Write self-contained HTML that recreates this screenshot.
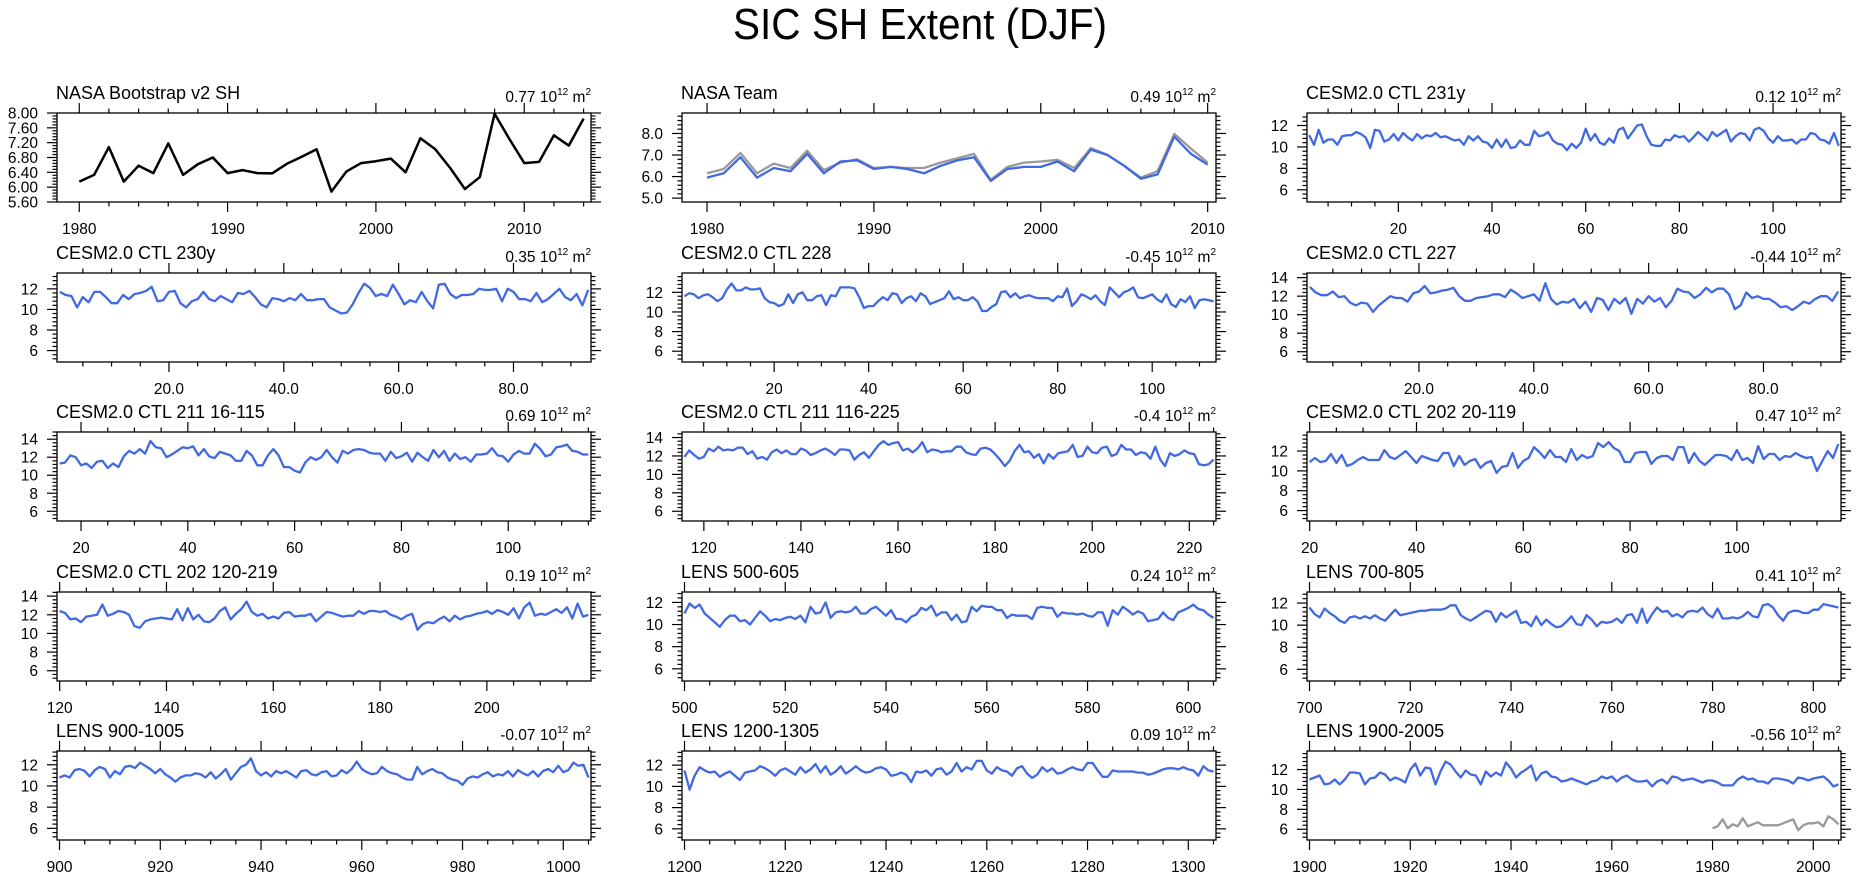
<!DOCTYPE html>
<html><head><meta charset="utf-8"><style>
html,body{margin:0;padding:0;background:#fff;}
svg{display:block;font-family:"Liberation Sans",Arial,sans-serif;}
</style></head><body>
<svg id="chart" width="1861" height="880" viewBox="0 0 1861 880" xmlns="http://www.w3.org/2000/svg">
<rect width="1861" height="880" fill="#fff"/>
<text x="920" y="39" text-anchor="middle" font-size="44" textLength="374" lengthAdjust="spacingAndGlyphs">SIC SH Extent (DJF)</text>
</svg>
<script>
const bootstrapVals=[6.15,6.33,7.08,6.15,6.58,6.38,7.18,6.33,6.62,6.8,6.38,6.46,6.38,6.37,6.63,6.82,7.02,5.88,6.42,6.65,6.7,6.77,6.4,7.32,7.02,6.52,5.95,6.27,7.98,7.3,6.65,6.68,7.4,7.12,7.85];
const teamGrayVals=[6.15,6.35,7.1,6.15,6.6,6.4,7.2,6.3,6.65,6.8,6.4,6.45,6.4,6.4,6.65,6.85,7.05,5.85,6.45,6.65,6.7,6.78,6.4,7.32,7.0,6.5,5.95,6.25,7.98,7.3,6.65];
const teamBlueVals=[5.95,6.15,6.9,5.95,6.4,6.25,7.05,6.15,6.7,6.75,6.35,6.45,6.35,6.15,6.5,6.75,6.9,5.8,6.35,6.45,6.45,6.7,6.25,7.25,7.0,6.5,5.9,6.1,7.85,7.05,6.55];
const ctl231Vals=[11.1,10.2,11.6,10.4,10.7,10.7,10.2,11.0,11.1,11.1,11.4,11.2,10.9,9.9,11.6,11.5,10.5,10.7,11.2,10.6,11.3,10.9,10.6,11.2,10.8,11.1,11.0,11.3,10.9,11.0,10.8,10.6,10.7,10.2,11.0,10.6,11.0,10.5,10.4,9.9,10.7,10.0,10.7,9.9,10.0,10.6,10.2,10.2,11.5,11.0,11.1,11.4,10.6,10.3,10.2,9.7,10.3,9.9,10.4,11.7,10.6,11.2,10.4,10.2,10.8,10.4,11.6,11.8,10.8,11.4,12.0,12.1,11.0,10.2,10.1,10.1,10.7,10.6,11.1,10.9,11.0,10.5,10.9,11.4,11.0,10.6,11.4,11.0,11.3,11.6,10.5,11.0,11.3,11.2,10.6,11.6,11.8,11.5,10.8,10.4,11.0,10.6,10.6,10.7,10.3,10.7,10.7,11.3,11.2,10.7,10.6,10.3,11.3,10.1];
const ctl230Vals=[11.7,11.4,11.3,10.2,11.2,10.7,11.7,11.7,11.2,10.6,10.6,11.4,11.0,11.5,11.6,11.8,12.2,10.8,10.9,11.7,11.8,10.6,10.2,10.8,11.0,11.7,11.0,10.8,11.3,11.0,10.7,11.6,11.5,11.8,11.2,10.5,10.2,11.1,11.0,10.8,11.1,10.9,11.5,10.9,10.9,11.0,11.0,10.2,9.9,9.6,9.7,10.5,11.6,12.5,12.1,11.3,11.5,11.3,12.4,11.5,10.5,10.9,10.7,11.7,10.8,10.1,12.4,12.5,11.5,11.1,11.4,11.4,11.5,12.0,11.9,11.9,12.0,10.8,12.0,11.7,11.0,11.0,10.8,11.6,10.7,11.0,11.5,12.0,11.2,10.9,11.5,10.4,11.9];
const ctl228Vals=[11.6,11.9,11.8,11.4,11.7,11.8,11.5,11.1,11.4,12.3,12.9,12.2,12.2,12.5,12.3,12.3,12.4,11.4,11.0,10.9,10.6,10.8,11.8,10.9,11.8,12.0,11.2,11.2,11.6,11.7,10.7,11.7,11.6,12.5,12.5,12.5,12.4,11.5,10.4,10.6,10.6,11.1,11.5,11.2,11.9,11.8,10.9,11.4,11.6,11.1,11.9,11.6,10.8,11.0,11.2,11.4,12.1,11.3,11.5,11.2,11.2,11.5,11.1,10.1,10.1,10.5,10.8,12.0,12.1,11.5,11.9,11.4,11.6,11.7,11.5,11.4,11.4,11.4,11.1,11.6,11.5,12.4,10.6,11.1,11.8,11.6,11.3,11.7,11.1,10.7,12.5,12.0,11.5,12.0,12.2,12.5,11.5,11.4,11.6,11.8,11.3,11.0,11.8,10.8,10.5,11.3,11.0,11.6,10.4,11.2,11.3,11.2,11.1];
const ctl227Vals=[13.0,12.4,12.1,12.1,12.5,11.9,12.0,11.3,11.0,11.3,11.2,10.3,11.0,11.5,12.0,11.8,11.8,11.4,12.3,12.5,13.1,12.3,12.4,12.6,12.7,12.9,12.0,11.5,11.5,11.8,11.9,12.0,12.2,12.2,11.9,12.7,12.3,11.8,12.0,12.2,11.5,13.4,11.7,11.1,11.4,11.3,11.7,10.7,11.4,10.3,11.8,11.6,10.5,11.7,11.2,11.8,10.1,11.7,11.2,12.0,11.4,11.8,10.8,11.5,12.8,12.5,12.4,11.8,12.2,12.9,12.4,12.8,12.8,12.2,10.6,11.0,12.4,11.8,12.0,11.7,11.7,11.3,10.8,10.9,10.5,10.9,11.4,11.2,11.7,12.0,12.0,11.5,12.5];
const ctl211aVals=[11.3,11.4,12.2,12.0,11.1,11.3,10.8,11.5,11.6,10.8,11.3,10.9,12.1,12.7,12.4,12.9,12.4,13.8,13.1,13.0,12.0,12.3,12.7,13.1,13.0,13.2,12.2,12.9,12.1,11.9,12.6,12.4,12.2,11.6,11.6,12.7,12.2,11.1,11.1,12.2,12.9,12.2,10.9,10.9,10.5,10.3,11.4,12.0,11.7,12.0,12.8,12.0,11.4,12.7,12.4,12.8,12.9,12.8,12.5,12.4,12.4,11.6,12.6,11.9,12.1,12.5,11.5,12.5,12.0,11.6,12.8,12.0,12.7,11.6,12.4,11.8,12.0,11.5,12.3,12.3,12.4,13.0,12.2,12.1,11.5,12.3,12.7,12.4,12.4,13.5,12.9,12.1,12.3,13.1,13.2,13.4,12.7,12.6,12.3,12.3];
const ctl211bVals=[11.9,12.6,12.1,11.7,11.9,12.8,12.5,13.0,12.6,12.7,12.6,12.9,12.9,12.2,12.5,11.7,11.9,11.6,12.4,12.7,12.3,12.6,12.2,12.2,12.8,12.6,12.1,12.3,12.6,12.8,12.5,12.1,12.7,12.7,12.6,11.6,12.1,12.4,11.8,12.5,13.2,13.6,13.2,13.4,13.5,12.6,12.8,12.4,12.8,13.5,12.4,12.7,12.6,12.4,12.5,12.5,13.0,13.0,12.4,12.2,12.1,12.8,12.9,12.7,12.2,11.6,10.9,11.5,12.5,13.2,12.4,12.5,11.8,12.2,11.2,12.2,11.7,12.3,12.4,12.5,13.2,11.9,12.0,13.0,12.4,12.3,12.9,13.0,12.0,12.2,13.2,12.7,12.7,12.1,12.4,12.3,11.7,13.0,11.6,10.9,12.3,12.0,12.2,12.6,12.3,12.2,11.1,11.0,11.1,11.6];
const ctl202aVals=[10.9,11.3,10.9,11.0,11.7,10.8,11.6,10.5,10.7,11.1,11.4,11.1,11.1,11.1,12.1,11.4,11.2,11.6,12.0,11.4,10.8,11.5,11.3,11.1,11.0,11.8,11.8,10.5,11.5,10.6,11.0,11.2,10.3,10.8,11.0,9.8,10.4,10.5,11.8,10.3,11.0,11.3,12.4,11.9,11.3,12.1,11.4,11.4,10.9,12.2,11.1,11.6,11.3,11.5,12.8,12.4,12.9,12.3,12.0,10.9,10.9,11.8,11.9,11.9,10.7,11.3,11.5,11.5,11.1,12.4,12.4,10.8,11.8,11.0,10.6,11.1,11.6,11.6,11.5,11.1,12.1,11.1,11.3,10.8,12.5,11.2,11.7,11.7,11.1,11.5,11.4,11.8,11.5,11.3,11.4,10.0,11.0,12.0,11.3,12.7];
const ctl202bVals=[12.4,12.2,11.5,11.6,11.2,11.8,11.9,12.0,13.1,11.9,12.1,12.4,12.3,12.0,10.8,10.6,11.3,11.5,11.6,11.7,11.6,11.5,12.6,11.4,12.7,11.5,12.0,11.3,11.2,11.6,12.4,12.8,11.5,12.1,12.6,13.4,12.3,11.9,12.1,11.6,11.8,11.6,12.2,12.3,11.8,11.9,11.9,12.1,11.3,11.8,12.3,12.2,12.0,11.8,11.9,11.9,12.4,12.1,12.4,12.4,12.3,12.4,12.0,11.8,11.5,11.9,12.1,10.4,11.0,11.2,11.1,11.5,11.8,11.3,11.9,11.5,11.8,11.9,12.1,12.2,12.4,12.1,12.5,12.3,12.0,12.7,11.6,12.8,13.3,11.9,12.1,12.0,12.3,12.6,12.2,12.8,11.6,13.2,11.8,12.0];
const lens500Vals=[11.0,11.9,11.5,11.8,11.0,10.6,10.2,9.8,10.4,10.8,10.8,10.3,10.4,10.0,10.6,11.2,10.8,10.3,10.5,10.4,10.6,10.7,10.5,10.8,10.2,11.6,11.0,11.1,12.0,10.6,11.1,11.2,11.1,11.2,11.6,11.0,11.0,11.4,11.6,11.2,10.8,11.3,10.5,10.5,10.2,10.7,10.9,11.5,11.3,11.7,10.8,11.1,11.1,10.4,10.9,10.2,10.3,11.6,11.2,11.7,11.6,11.6,11.3,11.3,10.6,10.9,10.8,10.8,10.8,10.5,11.5,11.6,11.5,11.5,10.7,11.1,11.0,11.0,10.9,11.0,10.8,10.7,11.1,11.1,9.9,11.3,10.9,11.6,11.3,10.9,11.2,11.0,10.3,10.4,10.5,11.1,10.6,10.4,11.1,11.3,11.5,11.8,11.4,11.3,10.9,10.6];
const lens700Vals=[11.6,11.0,10.7,11.5,11.1,10.8,10.4,10.2,10.7,10.8,10.6,10.8,10.6,10.9,10.6,10.4,10.9,11.4,10.9,11.0,11.1,11.2,11.3,11.3,11.4,11.4,11.4,11.5,11.8,11.8,10.9,10.6,10.4,10.7,11.0,11.3,11.2,10.3,11.1,10.7,11.0,11.3,10.2,10.3,9.9,10.8,10.0,10.5,10.1,9.8,9.9,10.3,10.8,10.1,10.0,10.9,10.5,9.9,10.3,10.2,10.3,10.6,10.2,10.9,11.0,10.2,11.5,10.2,11.0,11.6,11.2,11.3,10.8,11.0,10.7,11.2,11.3,11.2,11.6,11.0,10.7,11.5,10.6,10.6,10.7,10.6,10.8,11.2,10.8,10.7,11.8,11.9,11.6,10.9,10.4,11.1,11.3,11.3,11.1,11.1,11.4,11.4,11.9,11.8,11.7,11.6];
const lens900Vals=[10.8,11.0,10.8,11.5,11.6,11.4,10.9,11.5,11.8,11.6,10.8,11.4,11.1,11.8,11.9,11.7,12.2,11.9,11.6,11.2,11.6,11.1,10.8,10.4,10.8,11.0,11.0,11.2,11.1,10.8,11.3,10.7,11.1,11.6,10.6,11.2,11.8,12.0,12.6,11.4,11.0,11.3,10.9,11.4,11.2,11.4,11.1,10.8,11.4,11.5,11.1,11.0,11.3,11.4,10.9,11.0,11.5,11.2,11.6,12.3,11.6,11.3,11.1,11.2,11.8,11.4,11.2,11.1,10.8,10.6,10.6,11.8,11.1,11.4,11.6,11.3,11.2,10.8,10.6,10.5,10.1,10.7,10.9,10.8,11.1,11.3,10.9,11.1,11.0,11.4,10.9,11.5,11.2,11.0,11.4,10.9,11.4,11.6,11.3,11.9,11.3,11.5,12.2,11.9,12.0,10.8];
const lens1200Vals=[11.5,9.7,11.0,11.8,11.5,11.3,11.4,10.9,11.2,11.4,11.0,10.6,11.3,11.4,11.5,11.9,11.7,11.4,11.0,11.5,11.7,11.4,11.1,11.8,11.3,11.6,12.1,11.3,11.9,11.1,11.4,11.9,11.2,11.5,11.9,11.5,11.3,11.4,11.7,11.8,11.6,11.0,11.1,11.3,11.1,10.4,11.4,11.3,11.5,11.0,11.6,11.7,11.1,11.4,12.2,11.4,11.8,11.6,12.4,12.4,11.5,11.2,11.8,11.5,11.4,11.0,11.7,11.9,11.2,10.8,11.1,11.8,11.4,11.7,11.2,11.3,11.6,11.8,11.6,11.5,12.2,12.2,11.5,10.9,10.9,11.5,11.4,11.4,11.4,11.4,11.3,11.3,11.1,11.2,11.4,11.6,11.7,11.7,11.6,11.8,11.6,11.5,11.0,11.9,11.5,11.4];
const lens1900Vals=[11.0,11.2,11.4,10.5,10.6,11.0,10.5,11.0,11.7,11.7,11.6,10.5,11.1,11.2,11.7,11.5,10.9,11.2,11.0,10.7,12.0,12.6,11.4,12.2,12.1,10.5,11.8,12.8,12.5,11.8,11.2,11.9,11.5,11.4,10.5,11.8,11.3,11.7,11.4,12.7,12.1,11.2,11.7,12.0,12.4,10.9,11.6,11.8,11.3,11.2,10.8,10.9,11.1,10.9,10.7,10.5,10.8,10.9,11.3,11.1,11.3,10.8,11.2,11.4,11.0,10.8,10.8,10.9,10.3,10.8,11.0,10.6,11.3,11.2,10.9,11.0,11.1,10.9,10.7,10.9,10.9,10.7,10.4,10.4,10.4,11.0,11.3,11.0,11.1,10.8,10.8,10.6,11.1,11.1,11.0,10.9,10.6,11.2,11.1,10.9,11.1,11.2,11.3,10.9,10.3,10.5];
const obs1900GrayVals=[6.1,6.3,7.0,6.1,6.5,6.3,7.1,6.3,6.5,6.7,6.4,6.4,6.4,6.4,6.6,6.8,7.0,5.9,6.4,6.6,6.6,6.7,6.3,7.3,7.0,6.5];
const panelTitles=["NASA Bootstrap v2 SH","NASA Team","CESM2.0 CTL 231y","CESM2.0 CTL 230y","CESM2.0 CTL 228","CESM2.0 CTL 227","CESM2.0 CTL 211 16-115","CESM2.0 CTL 211 116-225","CESM2.0 CTL 202 20-119","CESM2.0 CTL 202 120-219","LENS 500-605","LENS 700-805","LENS 900-1005","LENS 1200-1305","LENS 1900-2005"];
const trendLabels=["0.77","0.49","0.12","0.35","-0.45","-0.44","0.69","-0.4","0.47","0.19","0.24","0.41","-0.07","0.09","-0.56"];
const seriesStarts=[1980,1980,1,1,1,1,16,116,20,120,500,700,900,1200,1900];

const NS="http://www.w3.org/2000/svg";
const svg=document.getElementById('chart');
function mk(tag,attrs,parent){const e=document.createElementNS(NS,tag);for(const k in attrs)e.setAttribute(k,attrs[k]);(parent||svg).appendChild(e);return e;}

const colX=[57,682,1307], rowY=[113,273,432,592,751], W=534, H=89;
const panels=[
 {vals:[bootstrapVals],colors:["#000"],widths:[2.5],xr:[1978.5,2014.5],yr:[5.6,8.0],xmaj:10,xmin:2,ymaj:0.4,ymin:0.08,ydec:2,xfmt:0},
 {vals:[teamGrayVals,teamBlueVals],colors:["#999","#4169e1"],widths:[2.3,2.3],xr:[1978.5,2010.5],yr:[4.82,8.95],xmaj:10,xmin:2,ymaj:1,ymin:0.2,ydec:1,xfmt:0},
 {vals:[ctl231Vals],xr:[0.5,114.5],yr:[4.86,13.17]},
 {vals:[ctl230Vals],xr:[0.5,93.5],yr:[4.89,13.54],xfmt:1},
 {vals:[ctl228Vals],xr:[0.5,113.5],yr:[4.9,13.97]},
 {vals:[ctl227Vals],xr:[0.5,93.5],yr:[4.89,14.5],xfmt:1},
 {vals:[ctl211aVals],xr:[15.5,115.5],yr:[4.92,14.8]},
 {vals:[ctl211bVals],xr:[115.5,225.5],yr:[4.94,14.6]},
 {vals:[ctl202aVals],xr:[19.5,119.5],yr:[4.95,13.92]},
 {vals:[ctl202bVals],xr:[119.5,219.5],yr:[4.9,14.44]},
 {vals:[lens500Vals],xr:[499.5,605.5],yr:[4.9,12.94]},
 {vals:[lens700Vals],xr:[699.5,805.5],yr:[4.94,13.0]},
 {vals:[lens900Vals],xr:[899.5,1005.5],yr:[4.9,13.3]},
 {vals:[lens1200Vals],xr:[1199.5,1305.5],yr:[4.95,13.33]},
 {vals:[lens1900Vals,obs1900GrayVals],starts:[1900,1980],colors:["#4169e1","#999"],widths:[2.3,2.3],xr:[1899.5,2005.5],yr:[4.92,13.86]}
];

panels.forEach((p,pi)=>{
  const L=colX[pi%3], T=rowY[Math.floor(pi/3)], R=L+W, B=T+H;
  const g=mk('g',{});
  
  
  const xs=v=>L+(v-p.xr[0])/(p.xr[1]-p.xr[0])*W;
  const ys=v=>B-(v-p.yr[0])/(p.yr[1]-p.yr[0])*H;
  const xmaj=p.xmaj||20, xmin=p.xmin||5, ymaj=p.ymaj||2, ymin=p.ymin||0.4, ydec=p.ydec||0;
  const xt=mk('g',{stroke:'#000','stroke-width':1.2},g);
  
  
  for(let v=Math.ceil(p.xr[0]/xmin)*xmin; v<=p.xr[1]+1e-9; v+=xmin){
    const isMaj=Math.abs(v/xmaj-Math.round(v/xmaj))<1e-6, len=isMaj?10:4.5, x=xs(v);
    mk('line',{x1:x,x2:x,y1:B,y2:B+len},xt); mk('line',{x1:x,x2:x,y1:T,y2:T-len},xt);
    if(isMaj){
      const t=mk('text',{x:x,y:B+32,'text-anchor':'middle','font-size':15.5,stroke:'none',fill:'#000'},g);
      
      
      t.textContent=p.xfmt?v.toFixed(1):String(Math.round(v));
    }
  }
  const yt=mk('g',{stroke:'#000','stroke-width':1.2},g);
  
  
  for(let k=Math.ceil(p.yr[0]/ymin-1e-6); k*ymin<=p.yr[1]+1e-9; k++){
    const v=k*ymin, isMaj=Math.abs(v/ymaj-Math.round(v/ymaj))<1e-6, len=isMaj?10:4.5, y=ys(v);
    mk('line',{x1:L,x2:L-len,y1:y,y2:y},yt); mk('line',{x1:R,x2:R+len,y1:y,y2:y},yt);
    if(isMaj){
      const t=mk('text',{x:L-19,y:y+5.5,'text-anchor':'end','font-size':15.5,stroke:'none',fill:'#000'},g);
      
      
      t.textContent=v.toFixed(ydec);
    }
  }
  p.vals.forEach((arr,si)=>{
    const st=(p.starts?p.starts[si]:seriesStarts[pi]);
    const pts=arr.map((v,i)=>xs(st+i).toFixed(1)+','+ys(v).toFixed(1)).join(' ');
    const pl=mk('polyline',{points:pts,fill:'none',stroke:(p.colors?p.colors[si]:'#4169e1'),'stroke-width':(p.widths?p.widths[si]:2.3),'stroke-linejoin':'round'},g);
    
    
  });
  const box=mk('rect',{x:L,y:T,width:W,height:H,fill:'none',stroke:'#000','stroke-width':1.3},g);
  
  
  const tt=mk('text',{x:L-1,y:T-14,'font-size':18,fill:'#000'},g);
  
  
  tt.textContent=panelTitles[pi];
  const an=mk('text',{x:R,y:T-11,'text-anchor':'end','font-size':15.5,fill:'#000'},g);
  
  
  an.innerHTML=trendLabels[pi]+' 10<tspan font-size="10" dy="-7">12</tspan><tspan dy="7"> m</tspan><tspan font-size="10" dy="-7">2</tspan>';
});
</script>
</body></html>
